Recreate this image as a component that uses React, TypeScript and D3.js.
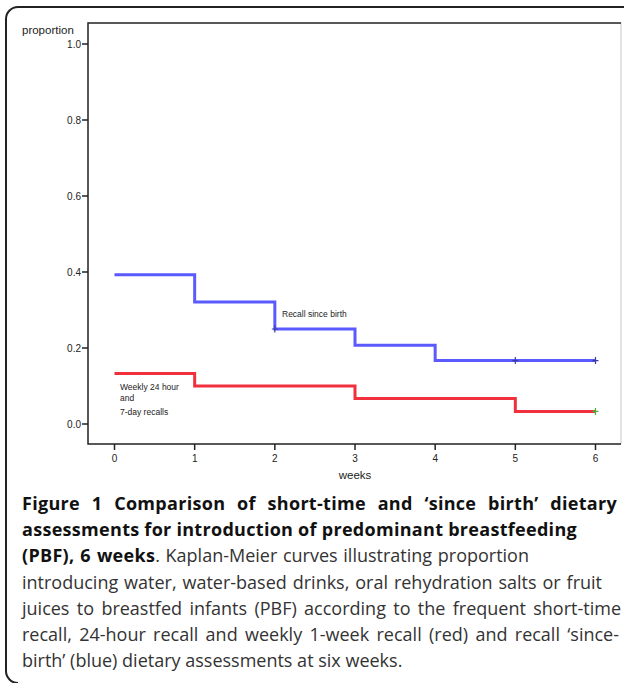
import React, { useRef, useEffect } from "react";
import * as d3 from "d3";

const weekTicks = [0, 1, 2, 3, 4, 5, 6];
const proportionTicks = [0, 0.2, 0.4, 0.6, 0.8, 1.0];

// recall since birth (blue)
const sinceBirthWeeks = [0, 1, 2, 3, 4, 6];
const sinceBirthValues = [0.393, 0.321, 0.25, 0.207, 0.167, 0.167];
const sinceBirthCensored = [2, 5, 6];

// weekly 24 hour and 7-day recalls (red)
const weeklyWeeks = [0, 1, 3, 5, 6];
const weeklyValues = [0.133, 0.1, 0.067, 0.033, 0.033];
const weeklyCensored = [6];

const captionLines = [
  [{ t: "Figure 1 Comparison of short-time and \u2018since birth\u2019 dietary", b: true }],
  [{ t: "assessments for introduction of predominant breastfeeding", b: true }],
  [
    { t: "(PBF), 6 weeks", b: true },
    { t: ". Kaplan-Meier curves illustrating proportion", b: false },
  ],
  [{ t: "introducing water, water-based drinks, oral rehydration salts or fruit", b: false }],
  [{ t: "juices to breastfed infants (PBF) according to the frequent short-time", b: false }],
  [{ t: "recall, 24-hour recall and weekly 1-week recall (red) and recall \u2018since-", b: false }],
  [{ t: "birth\u2019 (blue) dietary assessments at six weeks.", b: false }],
];
// right end of each caption line in the reference (last line left as is)
const captionEnds = [617, 577, 529, 602, 621, 619, 0];

const App = () => {
  const ref = useRef<SVGSVGElement>(null);

  useEffect(() => {
    const width = 624;
    const height = 683;
    const left = 88;
    const top = 23;
    const right = 621;
    const bottom = 444;

    const x = d3.scaleLinear().domain([0, 6]).range([114.5, 595.5]);
    const y = d3.scaleLinear().domain([0, 1]).range([424, 44]);

    const svg = d3.select(ref.current).attr("width", width).attr("height", height);
    svg.selectAll("*").remove();

    svg.append("rect").attr("width", width).attr("height", height).attr("fill", "#fff");

    // outer rounded border
    svg
      .append("path")
      .attr("d", `M ${width + 2} 7 H 18 A 12 12 0 0 0 6 19 V 671 A 12 12 0 0 0 18 683`)
      .attr("fill", "none")
      .attr("stroke", "#222")
      .attr("stroke-width", 2);

    // plot frame
    svg
      .append("path")
      .attr("d", `M ${right} ${top} V ${bottom}`)
      .attr("stroke", "#c8c8c8")
      .attr("stroke-width", 1);
    svg
      .append("path")
      .attr("d", `M ${right} ${top} H ${left} V ${bottom} H ${right}`)
      .attr("fill", "none")
      .attr("stroke", "#222")
      .attr("stroke-width", 1.5);

    const font = "'Liberation Sans', Arial, sans-serif";

    // y axis
    const yAxis = svg.append("g");
    yAxis
      .selectAll("line")
      .data(proportionTicks)
      .enter()
      .append("line")
      .attr("x1", left - 6)
      .attr("x2", left)
      .attr("y1", (d) => y(d))
      .attr("y2", (d) => y(d))
      .attr("stroke", "#222")
      .attr("stroke-width", 1.5);
    yAxis
      .selectAll("text")
      .data(proportionTicks)
      .enter()
      .append("text")
      .attr("x", left - 7)
      .attr("y", (d) => y(d))
      .attr("dy", "0.35em")
      .attr("text-anchor", "end")
      .style("font-family", font)
      .style("font-size", "10px")
      .style("fill", "#222")
      .text((d) => d3.format(".1f")(d));

    svg
      .append("text")
      .attr("x", 22)
      .attr("y", 34)
      .style("font-family", font)
      .style("font-size", "11.5px")
      .style("fill", "#222")
      .text("proportion");

    // x axis
    const xAxis = svg.append("g");
    xAxis
      .selectAll("line")
      .data(weekTicks)
      .enter()
      .append("line")
      .attr("x1", (d) => x(d))
      .attr("x2", (d) => x(d))
      .attr("y1", bottom)
      .attr("y2", bottom + 6)
      .attr("stroke", "#222")
      .attr("stroke-width", 1.5);
    xAxis
      .selectAll("text")
      .data(weekTicks)
      .enter()
      .append("text")
      .attr("x", (d) => x(d))
      .attr("y", 462)
      .attr("text-anchor", "middle")
      .style("font-family", font)
      .style("font-size", "10px")
      .style("fill", "#222")
      .text((d) => d);

    svg
      .append("text")
      .attr("x", x(3))
      .attr("y", 479)
      .attr("text-anchor", "middle")
      .style("font-family", font)
      .style("font-size", "11.5px")
      .style("fill", "#222")
      .text("weeks");

    // step curves
    const line = d3
      .line<[number, number]>()
      .x((d) => x(d[0]))
      .y((d) => y(d[1]))
      .curve(d3.curveStepAfter);

    const series = [
      { w: sinceBirthWeeks, v: sinceBirthValues, c: sinceBirthCensored, color: "#5a5aff", mark: "#3b3ba8" },
      { w: weeklyWeeks, v: weeklyValues, c: weeklyCensored, color: "#f0303c", mark: "#3cb83c" },
    ];

    series.forEach((s) => {
      const pts = s.w.map((w, i) => [w, s.v[i]] as [number, number]);
      svg
        .append("path")
        .attr("d", line(pts))
        .attr("fill", "none")
        .attr("stroke", s.color)
        .attr("stroke-width", 3);

      const valueAt = (t: number) => {
        let val = s.v[0];
        s.w.forEach((w, i) => {
          if (w <= t) val = s.v[i];
        });
        return val;
      };

      const marks = svg.append("g");
      s.c.forEach((t) => {
        const cx = x(t);
        const cy = y(valueAt(t));
        marks
          .append("path")
          .attr("d", `M ${cx - 3} ${cy} H ${cx + 3} M ${cx} ${cy - 3.5} V ${cy + 3.5}`)
          .attr("stroke", s.mark)
          .attr("stroke-width", 1.2);
      });
    });

    // annotations
    svg
      .append("text")
      .attr("x", 282)
      .attr("y", 317)
      .style("font-family", font)
      .style("font-size", "8.5px")
      .style("fill", "#222")
      .text("Recall since birth");

    [
      ["Weekly 24 hour", 390],
      ["and", 401],
      ["7-day recalls", 415],
    ].forEach(([t, yy]) => {
      svg
        .append("text")
        .attr("x", 120)
        .attr("y", yy as number)
        .style("font-family", font)
        .style("font-size", "8.5px")
        .style("fill", "#222")
        .text(t as string);
    });

    // caption, word spacing stretched to the reference's line ends
    const capX = 22;
    const cap = svg
      .append("g")
      .style("font-family", "'Open Sans', sans-serif")
      .style("font-size", "18px");
    captionLines.forEach((parts, i) => {
      const text = cap
        .append("text")
        .attr("x", capX)
        .attr("y", 510 + i * 26.2);
      parts.forEach((p) => {
        text
          .append("tspan")
          .style("font-weight", p.b ? "bold" : "normal")
          .style("letter-spacing", p.b ? "0.3px" : "0px")
          .style("fill", p.b ? "#111" : "#333")
          .text(p.t);
      });
      if (!captionEnds[i]) return;
      const node = text.node() as SVGTextElement;
      const natural = node.getComputedTextLength();
      const full = parts.map((p) => p.t).join("");
      const spaces = (full.match(/ /g) || []).length;
      const extra = captionEnds[i] - capX - natural;
      if (spaces > 0) {
        text.style("word-spacing", `${Math.max(-2, extra / spaces)}px`);
      }
    });
  }, []);

  return (
    <div style={{ position: "absolute", left: 0, top: 0 }}>
      <svg ref={ref} style={{ display: "block" }}></svg>
    </div>
  );
};

export default App;
